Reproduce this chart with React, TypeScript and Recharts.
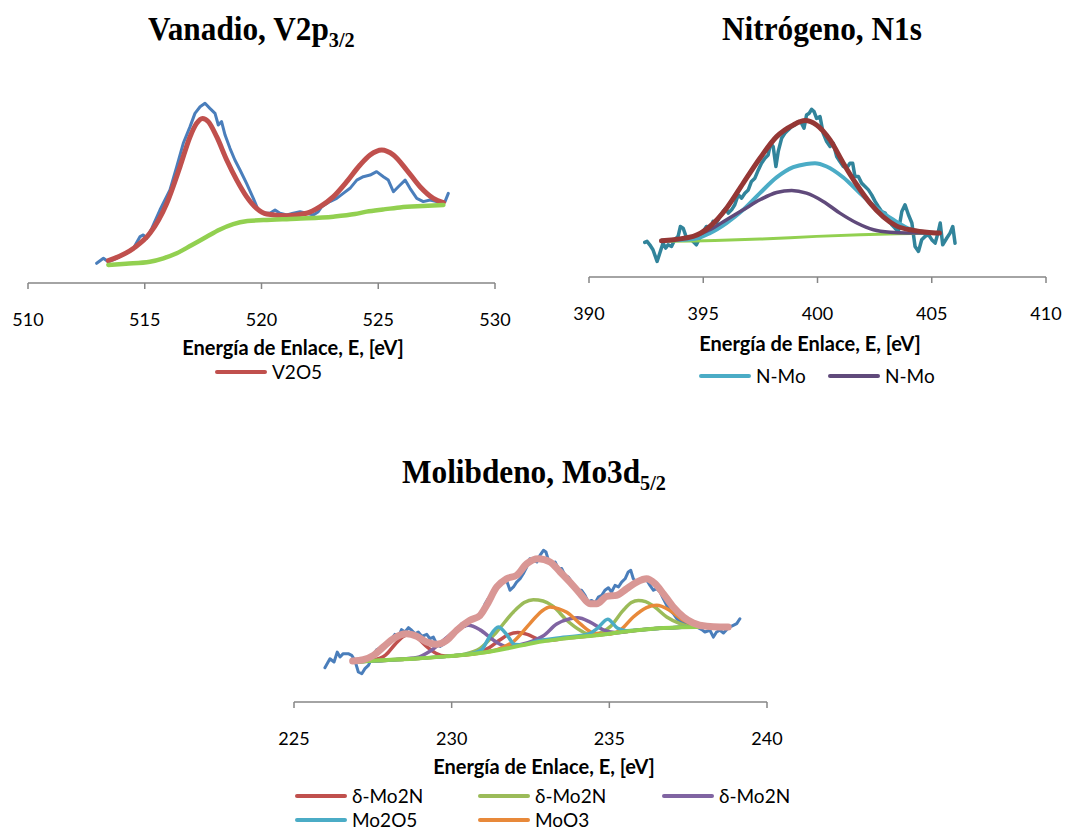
import React from 'react';
import { LineChart, Line, XAxis, YAxis } from 'recharts';

// ---------- Vanadio, V2p3/2 ----------
const vTicks = [510, 515, 520, 525, 530];
const vRawE = [512.94, 513.23, 513.44, 513.8, 514.23, 514.51, 514.8, 514.94, 515.08, 515.3, 515.65, 516.08, 516.37, 516.65, 516.94, 517.15, 517.37, 517.58, 517.79, 518.01, 518.15, 518.29, 518.44, 518.65, 518.86, 519.08, 519.36, 519.65, 519.86, 520.08, 520.36, 520.58, 520.79, 521.08, 521.36, 521.65, 521.93, 522.22, 522.43, 522.58, 522.93, 523.22, 523.5, 523.79, 524.08, 524.36, 524.65, 524.93, 525.22, 525.43, 525.65, 525.86, 526.15, 526.36, 526.65, 526.93, 527.22, 527.5, 527.86, 528.0];
const vRawI = [9.8, 12.3, 10.6, 12.3, 14.8, 17.2, 23.1, 23.9, 22.2, 27.2, 36.3, 46.3, 57.9, 69.5, 77.8, 84.4, 87.7, 89.4, 86.9, 84.4, 78.6, 80.3, 73.6, 67.0, 61.2, 56.2, 49.6, 42.1, 36.3, 34.7, 34.7, 36.3, 34.7, 33.8, 34.7, 35.5, 34.7, 33.8, 35.5, 38.0, 40.5, 42.1, 44.6, 47.1, 51.2, 52.9, 53.7, 55.4, 52.9, 51.2, 45.4, 47.9, 51.2, 47.1, 42.1, 40.5, 41.3, 40.5, 40.5, 44.6];
const vFitE = [513.44, 514.51, 515.22, 515.94, 516.51, 516.94, 517.22, 517.47, 517.72, 518.08, 518.51, 518.94, 519.36, 519.79, 520.22, 521.08, 521.93, 522.51, 523.08, 523.65, 524.22, 524.65, 525.15, 525.65, 526.22, 526.79, 527.36, 527.79];
const vFitI = [11.1, 17.2, 24.7, 39.6, 57.9, 72.8, 79.4, 81.9, 80.3, 72.8, 61.2, 51.2, 43.0, 37.1, 34.3, 33.5, 34.7, 38.0, 43.0, 50.4, 58.7, 63.7, 66.2, 63.7, 56.2, 47.9, 42.1, 40.0];
const vBaseE = [513.44, 514.2, 515.22, 515.8, 516.37, 517.0, 517.65, 518.2, 518.79, 519.4, 520.08, 521.5, 523.08, 524.0, 524.5, 525.2, 525.93, 526.9, 527.79];
const vBaseI = [9.0, 9.6, 10.6, 12.3, 14.8, 18.8, 23.0, 26.5, 29.3, 30.8, 31.3, 32.0, 33.0, 34.3, 35.5, 36.6, 37.6, 38.3, 38.8];

// ---------- Nitrógeno, N1s ----------
const nTicks = [390, 395, 400, 405, 410];
const nRawE = [392.44, 392.54, 392.66, 392.8, 392.98, 393.1, 393.24, 393.36, 393.46, 393.61, 393.75, 393.9, 394.0, 394.12, 394.27, 394.48, 394.7, 394.85, 395.0, 395.14, 395.32, 395.43, 395.58, 395.73, 395.87, 395.99, 396.09, 396.24, 396.38, 396.53, 396.68, 396.82, 396.97, 397.11, 397.26, 397.41, 397.55, 397.7, 397.84, 397.95, 398.06, 398.18, 398.28, 398.43, 398.57, 398.72, 398.87, 399.01, 399.16, 399.3, 399.41, 399.52, 399.64, 399.74, 399.85, 399.96, 400.11, 400.25, 400.4, 400.55, 400.69, 400.84, 400.98, 401.13, 401.28, 401.42, 401.54, 401.64, 401.79, 401.93, 402.08, 402.23, 402.37, 402.52, 402.66, 402.81, 402.96, 403.1, 403.25, 403.39, 403.54, 403.69, 403.83, 403.98, 404.13, 404.27, 404.42, 404.56, 404.71, 404.86, 405.0, 405.15, 405.29, 405.37, 405.48, 405.66, 405.8, 405.92, 406.02];
const nRawI = [18.9, 19.5, 17.6, 14.9, 8.5, 13.1, 18.5, 15.8, 17.6, 16.7, 20.4, 22.2, 27.6, 26.7, 21.3, 20.4, 17.6, 21.3, 24.9, 27.6, 26.7, 30.4, 29.5, 33.1, 35.8, 37.6, 34.9, 36.7, 39.5, 44.9, 43.1, 45.8, 47.6, 52.2, 54.0, 58.5, 62.2, 64.9, 66.7, 73.1, 71.3, 60.4, 68.5, 75.8, 78.5, 80.4, 82.2, 83.1, 84.9, 84.0, 81.3, 88.5, 89.5, 91.6, 90.4, 86.7, 87.6, 78.5, 74.0, 71.3, 73.1, 65.8, 63.1, 60.4, 59.5, 62.2, 62.2, 54.9, 54.9, 51.3, 49.5, 47.6, 44.9, 41.3, 38.5, 35.8, 34.9, 31.3, 28.5, 26.7, 24.9, 35.8, 39.5, 34.0, 29.5, 16.7, 14.0, 20.4, 22.2, 23.1, 20.4, 18.5, 24.9, 29.5, 17.6, 21.3, 24.0, 27.6, 18.5];
const nFitE = [393.17, 394.56, 395.29, 396.02, 396.75, 397.48, 398.21, 398.94, 399.45, 399.96, 400.55, 401.13, 401.72, 402.3, 402.88, 403.47, 404.2, 404.78, 405.34];
const nFitI = [19.8, 22.2, 27.6, 37.6, 51.3, 64.9, 76.7, 83.1, 85.5, 83.1, 74.9, 62.2, 50.4, 40.4, 32.9, 27.8, 25.5, 24.5, 24.0];
const nMoAE = [393.17, 394.56, 395.29, 396.02, 396.75, 397.48, 398.21, 398.94, 399.52, 399.89, 400.4, 401.13, 401.86, 402.59, 403.32, 404.05, 404.78, 405.34];
const nMoAI = [19.8, 20.7, 24.0, 29.5, 36.7, 45.8, 54.4, 60.0, 61.8, 62.2, 60.4, 54.4, 45.8, 37.6, 31.3, 26.2, 24.5, 24.0];
const nMoBE = [393.17, 394.56, 395.29, 396.02, 396.75, 397.48, 398.21, 398.87, 399.52, 400.25, 400.98, 401.72, 402.45, 403.18, 403.91, 405.34];
const nMoBI = [19.8, 22.2, 25.8, 31.3, 36.7, 42.2, 46.2, 47.3, 45.8, 41.3, 34.9, 29.5, 25.8, 24.4, 24.0, 24.0];
const nBaseE = [393.17, 395.5, 397.48, 399.96, 401.86, 403.5, 405.34];
const nBaseI = [19.5, 19.9, 20.7, 22.2, 23.1, 23.6, 24.0];

// ---------- Molibdeno, Mo3d5/2 ----------
const mTicks = [225, 230, 235, 240];
const mRawE = [225.98, 226.14, 226.27, 226.37, 226.46, 226.56, 226.72, 226.83, 226.93, 227.04, 227.15, 227.25, 227.36, 227.46, 227.62, 227.78, 227.94, 228.1, 228.2, 228.31, 228.41, 228.52, 228.63, 228.73, 228.84, 228.94, 229.05, 229.21, 229.31, 229.42, 229.52, 229.63, 229.74, 229.84, 229.95, 230.05, 230.16, 230.32, 230.42, 230.58, 230.79, 230.95, 231.06, 231.16, 231.32, 231.43, 231.59, 231.74, 231.85, 231.96, 232.06, 232.17, 232.27, 232.38, 232.48, 232.59, 232.7, 232.8, 232.91, 232.99, 233.07, 233.17, 233.28, 233.38, 233.49, 233.59, 233.7, 233.81, 233.91, 234.02, 234.12, 234.23, 234.33, 234.44, 234.55, 234.65, 234.76, 234.86, 234.97, 235.07, 235.18, 235.29, 235.39, 235.5, 235.6, 235.68, 235.76, 235.87, 235.97, 236.08, 236.18, 236.29, 236.4, 236.5, 236.61, 236.71, 236.82, 236.92, 237.03, 237.14, 237.24, 237.35, 237.45, 237.56, 237.66, 237.77, 237.93, 238.03, 238.19, 238.3, 238.4, 238.51, 238.62, 238.72, 238.83, 238.93, 239.04, 239.14];
const mRawI = [17.6, 22.2, 20.5, 25.6, 23.1, 24.8, 24.8, 23.9, 21.4, 15.4, 14.5, 17.1, 18.8, 22.2, 26.8, 28.2, 30.3, 32.5, 34.7, 33.3, 37.1, 35.9, 38.1, 36.8, 35.0, 35.9, 33.7, 34.7, 32.5, 33.3, 29.9, 28.5, 29.6, 30.8, 32.5, 35.0, 36.8, 40.2, 38.8, 41.5, 42.7, 45.3, 50.4, 53.0, 56.4, 59.8, 61.5, 62.4, 57.3, 59.0, 61.5, 63.2, 65.8, 69.2, 73.5, 72.6, 71.8, 75.2, 77.8, 76.9, 72.6, 70.9, 71.8, 68.4, 68.4, 65.0, 64.1, 61.5, 59.0, 57.3, 57.3, 54.7, 51.3, 52.1, 50.8, 53.8, 54.7, 57.3, 58.6, 56.4, 59.8, 59.0, 61.5, 63.2, 66.7, 67.5, 63.2, 61.5, 62.4, 63.2, 62.7, 59.8, 57.3, 58.1, 56.4, 53.0, 49.6, 47.0, 45.3, 42.7, 41.5, 40.5, 40.2, 39.8, 40.2, 38.5, 37.1, 35.9, 36.8, 33.3, 35.9, 36.8, 35.4, 37.1, 38.5, 39.3, 40.2, 42.7];
const mFitE = [226.86, 227.2, 227.52, 227.83, 228.15, 228.57, 228.89, 229.21, 229.52, 229.84, 230.16, 230.58, 230.9, 231.11, 231.43, 231.74, 232.06, 232.38, 232.75, 233.12, 233.44, 233.75, 234.07, 234.39, 234.6, 234.92, 235.23, 235.55, 235.87, 236.18, 236.45, 236.71, 237.03, 237.35, 237.66, 238.09, 238.51, 238.77];
const mFitI = [21.0, 21.7, 23.9, 28.2, 32.5, 35.0, 33.7, 30.8, 29.6, 31.6, 36.8, 41.9, 44.4, 49.6, 59.0, 63.2, 65.0, 70.9, 73.5, 71.8, 66.7, 61.5, 55.6, 50.4, 50.4, 54.2, 54.7, 58.1, 61.5, 63.2, 60.7, 55.6, 48.7, 43.6, 40.5, 38.8, 38.5, 38.5];
const mBaseE = [226.86, 227.73, 228.78, 229.84, 230.9, 231.74, 232.59, 233.54, 234.6, 235.66, 236.71, 237.77, 238.77];
const mBaseI = [20.5, 21.4, 22.2, 23.4, 25.1, 27.4, 30.3, 32.5, 34.2, 36.4, 37.9, 38.5, 38.5];
const mRedE = [226.86, 227.5, 227.9, 228.2, 228.45, 228.65, 228.9, 229.2, 229.5, 229.8, 230.3, 230.8, 231.2, 231.5, 231.8, 232.1, 232.4, 232.7, 233.0, 233.54, 234.6, 235.66, 236.71, 237.77, 238.77];
const mRedI = [20.5, 21.5, 24.0, 29.5, 33.5, 34.8, 33.0, 28.5, 25.0, 23.6, 24.0, 25.2, 28.0, 31.5, 34.5, 35.6, 34.7, 32.5, 31.5, 32.5, 34.2, 36.4, 37.9, 38.5, 38.5];
const mGreenE = [226.86, 228.78, 229.84, 230.4, 230.9, 231.43, 231.96, 232.3, 232.59, 232.9, 233.22, 233.65, 234.07, 234.35, 234.6, 235.02, 235.44, 235.7, 235.92, 236.15, 236.4, 236.82, 237.24, 237.77, 238.77];
const mGreenI = [20.5, 22.2, 23.4, 24.5, 27.5, 36.0, 46.2, 51.0, 52.5, 51.8, 49.0, 41.9, 36.8, 34.8, 35.0, 38.5, 47.0, 51.0, 52.1, 51.5, 49.2, 43.6, 40.2, 38.5, 38.5];
const mPurpleE = [226.86, 228.2, 228.9, 229.31, 229.84, 230.26, 230.53, 230.9, 231.32, 231.74, 232.2, 232.6, 232.91, 233.33, 233.75, 234.0, 234.39, 234.81, 235.23, 235.66, 236.71, 237.77, 238.77];
const mPurpleI = [20.5, 21.8, 22.8, 26.0, 33.0, 38.3, 39.3, 37.0, 31.8, 28.5, 29.5, 31.5, 34.0, 40.0, 42.7, 43.2, 41.0, 37.0, 35.5, 36.4, 37.9, 38.5, 38.5];
const mTealE = [226.86, 228.78, 229.84, 230.6, 230.95, 231.2, 231.48, 231.75, 232.0, 232.3, 232.59, 233.54, 234.3, 234.6, 234.95, 235.25, 235.55, 236.71, 237.77, 238.77];
const mTealI = [20.5, 22.2, 23.4, 24.7, 26.8, 33.5, 38.5, 34.5, 29.5, 29.4, 30.8, 33.2, 34.6, 37.5, 42.5, 38.0, 36.6, 37.9, 38.5, 38.5];
const mOrangeE = [226.86, 228.78, 229.84, 230.9, 231.43, 231.96, 232.48, 232.85, 233.12, 233.4, 233.65, 234.07, 234.49, 234.92, 235.34, 235.76, 236.18, 236.5, 236.92, 237.35, 237.77, 238.3, 238.77];
const mOrangeI = [20.5, 22.2, 23.4, 25.1, 26.8, 31.0, 40.2, 46.5, 48.7, 47.8, 46.0, 40.2, 35.4, 34.7, 36.8, 43.6, 48.4, 49.6, 47.0, 41.9, 39.3, 38.5, 38.5];

type Pt = { e: number; v: number };
const pts = (es: number[], vs: number[]): Pt[] => es.map((e, k) => ({ e, v: vs[k] }));

const GRAY = '#868686';
const SANS = 'Lato, "Open Sans", "DejaVu Sans", sans-serif';
const SERIF = '"Liberation Serif", "Times New Roman", serif';

type Series = { data: Pt[]; color: string; width: number; smooth?: boolean };

function Panel(props: {
  left: number; top: number; width: number; height: number;
  margin: { top: number; left: number; right: number };
  axisHeight: number; domain: [number, number]; ticks: number[]; series: Series[];
}) {
  const { left, top, width, height, margin, axisHeight, domain, ticks, series } = props;
  return (
    <div style={{ position: 'absolute', left, top }}>
      <LineChart width={width} height={height} margin={{ ...margin, bottom: 0 }}>
        <XAxis
          type="number" dataKey="e" domain={domain} ticks={ticks} interval={0}
          allowDataOverflow height={axisHeight}
          axisLine={{ stroke: GRAY, strokeWidth: 1.5 }}
          tickLine={{ stroke: GRAY, strokeWidth: 1.5 }}
          tickSize={6} tickMargin={24}
          tick={{ fontSize: 18, fill: '#000', fontFamily: SANS }}
        />
        <YAxis
          type="number" domain={[0, 100]} width={0} tick={false} tickLine={false}
          axisLine={{ stroke: GRAY, strokeWidth: 1.5 }}
        />
        {series.map((s, k) => (
          <Line
            key={k} data={s.data} dataKey="v" type={s.smooth ? 'monotone' : 'linear'}
            stroke={s.color} strokeWidth={s.width} dot={false} activeDot={false}
            strokeLinecap="round" strokeLinejoin="round" isAnimationActive={false}
          />
        ))}
      </LineChart>
    </div>
  );
}

function Title(props: { left: number; top: number; main: string; sub: string }) {
  return (
    <div style={{
      position: 'absolute', left: props.left, top: props.top, fontFamily: SERIF,
      fontWeight: 'bold', fontSize: 34, whiteSpace: 'nowrap', lineHeight: 1,
      transform: 'scaleX(0.92)', transformOrigin: 'left top', color: '#000',
    }}>
      {props.main}
      <span style={{ fontSize: 22, position: 'relative', top: 7 }}>{props.sub}</span>
    </div>
  );
}

function AxisTitle(props: { cx: number; cy: number }) {
  return (
    <div style={{
      position: 'absolute', left: props.cx - 150, top: props.cy - 12, width: 300,
      textAlign: 'center', fontFamily: SANS, fontWeight: 'bold', fontSize: 20,
      lineHeight: '24px', color: '#000', whiteSpace: 'nowrap',
    }}>
      Energía de Enlace, E, [eV]
    </div>
  );
}

function LegendItem(props: { x: number; y: number; color: string; label: string }) {
  return (
    <div style={{ position: 'absolute', left: props.x, top: props.y - 10, height: 20, display: 'flex', alignItems: 'center', whiteSpace: 'nowrap' }}>
      <div style={{ width: 52, height: 4.5, background: props.color, borderRadius: 2, marginRight: 5 }} />
      <span style={{ fontFamily: SANS, fontSize: 19, lineHeight: '20px', color: '#000' }}>{props.label}</span>
    </div>
  );
}

export default function App() {
  const vSeries: Series[] = [
    { data: pts(vRawE, vRawI), color: '#4A7EBB', width: 3 },
    { data: pts(vFitE, vFitI), color: '#C0504D', width: 5, smooth: true },
    { data: pts(vBaseE, vBaseI), color: '#92D050', width: 4.5, smooth: true },
  ];
  const nSeries: Series[] = [
    { data: pts(nRawE, nRawI), color: '#31849B', width: 3.5 },
    { data: pts(nBaseE, nBaseI), color: '#92D050', width: 3, smooth: true },
    { data: pts(nMoAE, nMoAI), color: '#4BACC6', width: 4, smooth: true },
    { data: pts(nMoBE, nMoBI), color: '#604A7B', width: 3.5, smooth: true },
    { data: pts(nFitE, nFitI), color: '#953735', width: 5, smooth: true },
  ];
  const mSeries: Series[] = [
    { data: pts(mRawE, mRawI), color: '#4A7EBB', width: 3 },
    { data: pts(mRedE, mRedI), color: '#C0504D', width: 3.5, smooth: true },
    { data: pts(mGreenE, mGreenI), color: '#9BBB59', width: 3.5, smooth: true },
    { data: pts(mPurpleE, mPurpleI), color: '#8064A2', width: 3.5, smooth: true },
    { data: pts(mOrangeE, mOrangeI), color: '#E8893A', width: 3.5, smooth: true },
    { data: pts(mTealE, mTealI), color: '#4BACC6', width: 3.5, smooth: true },
    { data: pts(mBaseE, mBaseI), color: '#92D050', width: 4, smooth: true },
    { data: pts(mFitE, mFitI), color: '#D99795', width: 7, smooth: true },
  ];

  return (
    <div style={{ position: 'absolute', left: 0, top: 0, width: 1065, height: 831, background: '#fff', overflow: 'hidden' }}>
      <Title left={148} top={12} main="Vanadio, V2p" sub="3/2" />
      <Title left={722} top={12} main="Nitrógeno, N1s" sub="" />
      <Title left={402} top={455} main="Molibdeno, Mo3d" sub="5/2" />

      <Panel left={0} top={0} width={520} height={340} margin={{ top: 82, left: 28, right: 25 }}
        axisHeight={57} domain={[510, 530]} ticks={vTicks} series={vSeries} />
      <Panel left={540} top={0} width={525} height={340} margin={{ top: 94, left: 49, right: 19 }}
        axisHeight={63} domain={[390, 410]} ticks={nTicks} series={nSeries} />
      <Panel left={260} top={420} width={540} height={330} margin={{ top: 87, left: 34, right: 33 }}
        axisHeight={48} domain={[225, 240]} ticks={mTicks} series={mSeries} />

      <AxisTitle cx={293} cy={347} />
      <AxisTitle cx={810} cy={343} />
      <AxisTitle cx={544} cy={766} />

      <LegendItem x={215} y={372} color="#C0504D" label="V2O5" />
      <LegendItem x={699} y={376} color="#4BACC6" label="N-Mo" />
      <LegendItem x={828} y={376} color="#604A7B" label="N-Mo" />

      <LegendItem x={295} y={796} color="#C0504D" label="δ-Mo2N" />
      <LegendItem x={478} y={796} color="#9BBB59" label="δ-Mo2N" />
      <LegendItem x={662} y={796} color="#8064A2" label="δ-Mo2N" />
      <LegendItem x={295} y={820} color="#4BACC6" label="Mo2O5" />
      <LegendItem x={478} y={820} color="#E8893A" label="MoO3" />
    </div>
  );
}
